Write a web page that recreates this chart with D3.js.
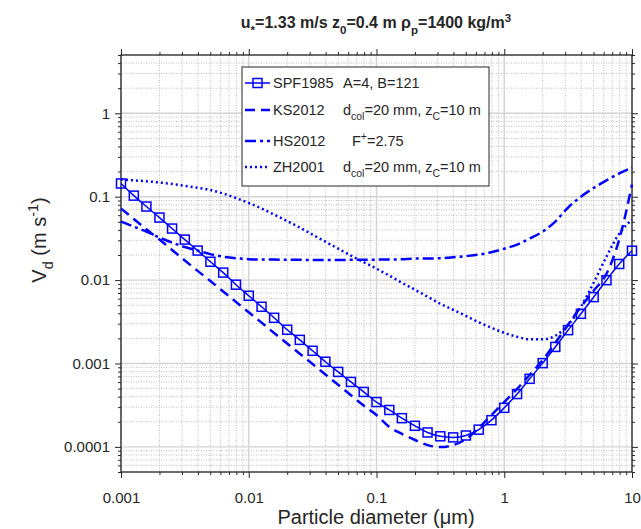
<!DOCTYPE html>
<html><head><meta charset="utf-8">
<script src="https://cdn.jsdelivr.net/npm/d3@7"></script>
<style>
body{margin:0;background:#fff}
svg{display:block}
text{font-family:"Liberation Sans",Arial,Helvetica,sans-serif;fill:#262626}
</style>
</head><body><svg id="chart" width="641" height="529"></svg>
<script>
// ---------------- data ----------------
const diameters = [0.001,0.00126,0.00158,0.002,0.00251,0.00316,0.00398,0.00501,0.00631,0.00794,
  0.01,0.0126,0.0158,0.02,0.0251,0.0316,0.0398,0.0501,0.0631,0.0794,
  0.1,0.126,0.158,0.2,0.251,0.316,0.398,0.501,0.631,0.794,
  1,1.26,1.58,2,2.51,3.16,3.98,5.01,6.31,7.94,10];

const spf1985 = [0.144,0.103,0.0762,0.0562,0.0415,0.0306,0.0226,0.0166,0.0123,0.00881,
  0.00649,0.00479,0.00353,0.00254,0.00192,0.00142,0.00105,0.000793,0.000601,0.000456,
  0.000345,0.000277,0.000221,0.000179,0.000149,0.000134,0.000130,0.000137,0.000161,0.000209,
  0.000294,0.000430,0.000655,0.00101,0.00158,0.00251,0.00394,0.00625,0.00998,0.0156,0.0225];

const ks2012 = [0.0721,0.0541,0.0407,0.0306,0.0230,0.0172,0.0129,0.00973,0.00730,0.00548,
  0.00411,0.00309,0.00232,0.00174,0.00131,0.000984,0.000738,0.000555,0.000416,0.000313,
  0.000241,0.000173,0.000143,0.000121,0.000105,0.0000995,0.000105,0.000124,0.000168,0.000241,
  0.000345,0.000495,0.000729,0.00110,0.00177,0.00291,0.00479,0.00746,0.0119,0.0306,0.140];

const hs2012 = [0.0503,0.0438,0.0382,0.0323,0.0282,0.0249,0.0226,0.0205,0.0191,0.0183,
  0.0178,0.0176,0.0176,0.0175,0.0175,0.0174,0.0174,0.0174,0.0175,0.0175,
  0.0176,0.0176,0.0178,0.0181,0.0181,0.0183,0.0188,0.0194,0.0202,0.0216,
  0.0238,0.0266,0.0315,0.0382,0.0503,0.0741,0.100,0.127,0.157,0.190,0.224];

const zh2001 = [0.161,0.157,0.153,0.148,0.142,0.135,0.128,0.120,0.109,0.0965,
  0.0840,0.0721,0.0611,0.0510,0.0426,0.0351,0.0289,0.0238,0.0197,0.0164,
  0.0137,0.0113,0.00930,0.00767,0.00632,0.00520,0.00441,0.00373,0.00312,0.00268,
  0.00233,0.00209,0.00195,0.00195,0.00215,0.00291,0.00479,0.00930,0.0191,0.0361,0.0532];

const xTickValues = [0.001,0.01,0.1,1,10];
const xTickLabels = ["0.001","0.01","0.1","1","10"];
const yTickValues = [0.0001,0.001,0.01,0.1,1];
const yTickLabels = ["0.0001","0.001","0.01","0.1","1"];

// ---------------- layout ----------------
const W = 641, H = 529;
const L = 121, R = 632, T = 55, B = 472;
const BLUE = "#0000ff";
const FONT = '"Liberation Sans",Arial,Helvetica,sans-serif';

const x = d3.scaleLog().domain([0.001, 10]).range([L, R]);
const y = d3.scaleLog().domain([5e-5, 5]).range([B, T]);

const svg = d3.select("#chart");
svg.append("rect").attr("width", W).attr("height", H).attr("fill", "#fff");

function minorTicks(lo, hi, majors) {
  const out = [];
  for (let e = -6; e <= 2; e++) for (let k = 1; k < 10; k++) {
    const v = +(k * Math.pow(10, e)).toPrecision(3);
    if (v >= lo * 0.999 && v <= hi * 1.001 && !majors.includes(v)) out.push(v);
  }
  return out;
}
const xMinor = minorTicks(0.001, 10, xTickValues);
const yMinor = minorTicks(5e-5, 5, yTickValues);

// ---------------- grid ----------------
const grid = svg.append("g");
grid.selectAll(".gxm").data(xMinor).join("line")
  .attr("x1", d => x(d)).attr("x2", d => x(d)).attr("y1", T).attr("y2", B)
  .attr("stroke", "#bdbdbd").attr("stroke-width", 1).attr("stroke-dasharray", "1,1.5");
grid.selectAll(".gym").data(yMinor).join("line")
  .attr("y1", d => y(d)).attr("y2", d => y(d)).attr("x1", L).attr("x2", R)
  .attr("stroke", "#bdbdbd").attr("stroke-width", 1).attr("stroke-dasharray", "1,1.5");
grid.selectAll(".gxM").data(xTickValues).join("line")
  .attr("x1", d => x(d)).attr("x2", d => x(d)).attr("y1", T).attr("y2", B)
  .attr("stroke", "#d3d3d3").attr("stroke-width", 1.4);
grid.selectAll(".gyM").data(yTickValues).join("line")
  .attr("y1", d => y(d)).attr("y2", d => y(d)).attr("x1", L).attr("x2", R)
  .attr("stroke", "#d3d3d3").attr("stroke-width", 1.4);

// ---------------- axes ----------------
function styleAxis(g) {
  g.select(".domain").remove();
  g.selectAll("line").attr("stroke", "#262626");
  g.selectAll("text").attr("fill", "#262626").attr("font-size", 15).attr("font-family", FONT);
}
const axes = svg.append("g");
axes.append("g").attr("transform", `translate(0,${B})`)
  .call(d3.axisBottom(x).tickValues(xTickValues).tickFormat((d, i) => xTickLabels[i]).tickSize(6).tickPadding(14))
  .call(styleAxis);
axes.append("g").attr("transform", `translate(0,${B})`)
  .call(d3.axisBottom(x).tickValues(xMinor).tickFormat("").tickSize(3)).call(styleAxis);
axes.append("g").attr("transform", `translate(0,${T})`)
  .call(d3.axisTop(x).tickValues(xTickValues).tickFormat("").tickSize(6)).call(styleAxis);
axes.append("g").attr("transform", `translate(0,${T})`)
  .call(d3.axisTop(x).tickValues(xMinor).tickFormat("").tickSize(3)).call(styleAxis);
axes.append("g").attr("transform", `translate(${L},0)`)
  .call(d3.axisLeft(y).tickValues(yTickValues).tickFormat((d, i) => yTickLabels[i]).tickSize(6).tickPadding(5))
  .call(styleAxis);
axes.append("g").attr("transform", `translate(${L},0)`)
  .call(d3.axisLeft(y).tickValues(yMinor).tickFormat("").tickSize(3)).call(styleAxis);
axes.append("g").attr("transform", `translate(${R},0)`)
  .call(d3.axisRight(y).tickValues(yTickValues).tickFormat("").tickSize(6)).call(styleAxis);
axes.append("g").attr("transform", `translate(${R},0)`)
  .call(d3.axisRight(y).tickValues(yMinor).tickFormat("").tickSize(3)).call(styleAxis);
axes.append("rect").attr("x", L).attr("y", T).attr("width", R - L).attr("height", B - T)
  .attr("fill", "none").attr("stroke", "#262626").attr("stroke-width", 1.3);

// ---------------- series ----------------
const series = [
  { key: "SPF", values: spf1985, dash: null, width: 1.5, marker: true },
  { key: "KS", values: ks2012, dash: "10,6", width: 2.5 },
  { key: "HS", values: hs2012, dash: "11,4,3,4", width: 2.5 },
  { key: "ZH", values: zh2001, dash: "2,3", width: 2.5 }
];
const line = d3.line().x(d => x(d[0])).y(d => y(d[1])).curve(d3.curveMonotoneX);
const plot = svg.append("g");
series.slice().reverse().forEach(s => {
  const pts = diameters.map((d, i) => [d, s.values[i]]);
  plot.append("path").attr("d", line(pts)).attr("fill", "none")
    .attr("stroke", BLUE).attr("stroke-width", s.width)
    .attr("stroke-dasharray", s.dash);
  if (s.marker) {
    plot.selectAll(".mk").data(pts).join("rect")
      .attr("x", d => x(d[0]) - 4.5).attr("y", d => y(d[1]) - 4.5)
      .attr("width", 9).attr("height", 9)
      .attr("fill", "none").attr("stroke", BLUE).attr("stroke-width", 1.5);
  }
});

// ---------------- rich text helper ----------------
function rich(sel, parts, size) {
  let shift = 0;
  parts.forEach(p => {
    const target = p.sub ? 0.35 * size : p.sup ? -0.4 * size : 0;
    sel.append("tspan")
      .attr("dy", target - shift)
      .attr("font-size", (p.sub || p.sup) ? size * 0.72 : size)
      .text(p.t);
    shift = target;
  });
  return sel;
}

// ---------------- legend ----------------
const lg = svg.append("g");
lg.append("rect").attr("x", 242).attr("y", 67).attr("width", 247).attr("height", 119)
  .attr("fill", "#fff").attr("stroke", "#262626").attr("stroke-width", 1);
const legendRows = [
  { s: series[0], yy: 83, name: "SPF1985", col2: [{ t: "A=4, B=121" }], x2: 343 },
  { s: series[1], yy: 110, name: "KS2012", col2: [{ t: "d" }, { t: "col", sub: true }, { t: "=20 mm, z" }, { t: "C", sub: true }, { t: "=10 m" }], x2: 343 },
  { s: series[2], yy: 141, name: "HS2012", col2: [{ t: "F" }, { t: "+", sup: true }, { t: "=2.75" }], x2: 352 },
  { s: series[3], yy: 167, name: "ZH2001", col2: [{ t: "d" }, { t: "col", sub: true }, { t: "=20 mm, z" }, { t: "C", sub: true }, { t: "=10 m" }], x2: 343 }
];
legendRows.forEach(r => {
  lg.append("line").attr("x1", 245).attr("x2", 270).attr("y1", r.yy).attr("y2", r.yy)
    .attr("stroke", BLUE).attr("stroke-width", r.s.width).attr("stroke-dasharray", r.s.dash);
  if (r.s.marker) {
    lg.append("rect").attr("x", 257.5 - 4.5).attr("y", r.yy - 4.5).attr("width", 9).attr("height", 9)
      .attr("fill", "none").attr("stroke", BLUE).attr("stroke-width", 1.5);
  }
  lg.append("text").attr("x", 273).attr("y", r.yy + 5).attr("font-size", 14.5).text(r.name);
  rich(lg.append("text").attr("x", r.x2).attr("y", r.yy + 5), r.col2, 14.5);
});

// ---------------- titles ----------------
rich(svg.append("text").attr("x", 376).attr("y", 28).attr("text-anchor", "middle")
  .attr("font-weight", "bold").attr("fill", "#000"),
  [{ t: "u" }, { t: "*", sub: true }, { t: "=1.33 m/s  z" }, { t: "0", sub: true },
   { t: "=0.4 m  ρ" }, { t: "p", sub: true }, { t: "=1400 kg/m" }, { t: "3", sup: true }], 16);

svg.append("text").attr("x", 376).attr("y", 524).attr("text-anchor", "middle")
  .attr("font-size", 20).text("Particle diameter (μm)");

rich(svg.append("text").attr("transform", "translate(46,240) rotate(-90)").attr("text-anchor", "middle"),
  [{ t: "V" }, { t: "d", sub: true }, { t: " (m s" }, { t: "-1", sup: true }, { t: ")" }], 20);
</script>
</body></html>
